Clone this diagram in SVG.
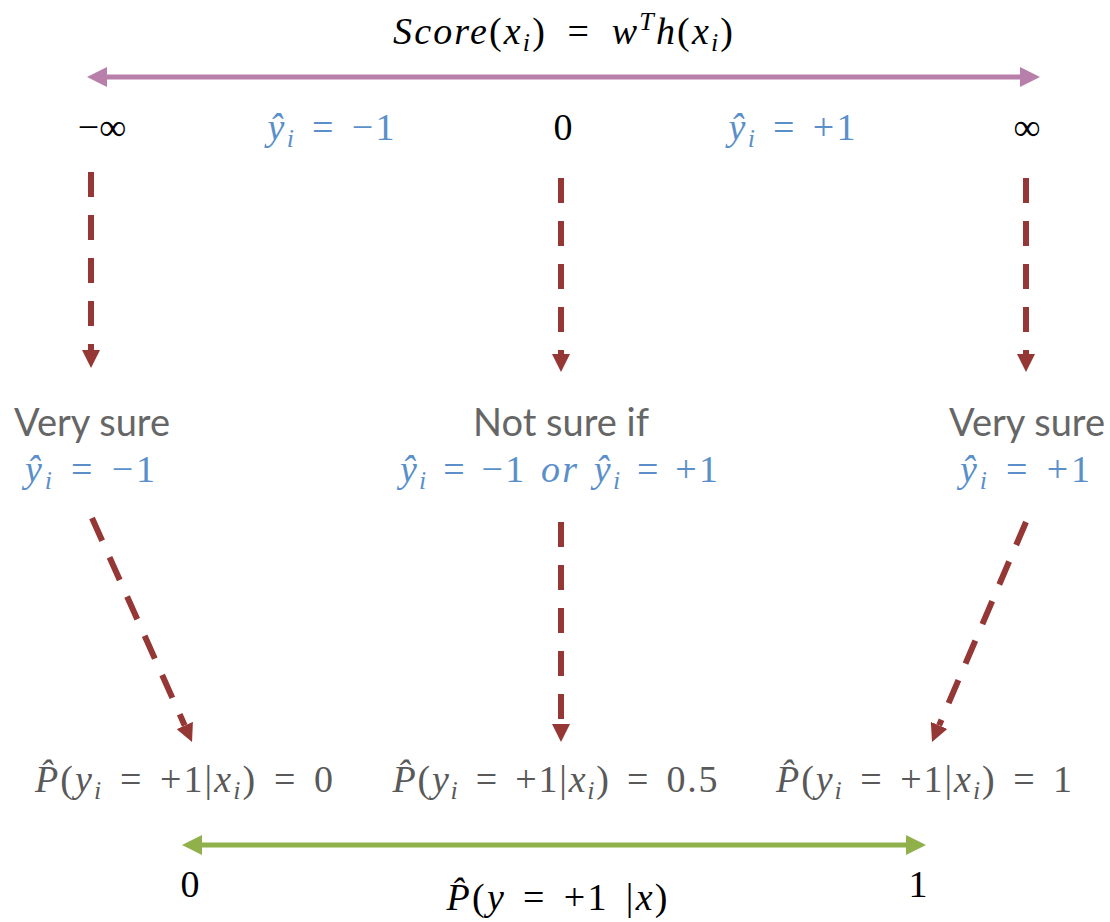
<svg xmlns="http://www.w3.org/2000/svg" width="1110" height="922" viewBox="0 0 1110 922">
<style>
.m{font-family:"Liberation Serif","DejaVu Serif",serif;font-size:38px}
.i{font-style:italic}
.s{font-size:26px}
.blk{fill:#000}
.blu{fill:#5b8fc9}
.gry{fill:#595959}
.lab{font-family:Lato,"Open Sans",sans-serif;font-size:38px;fill:#666}
.dash{stroke:#953735;stroke-width:6;stroke-dasharray:25 18;fill:none}
</style>
<defs>
<marker id="ah" viewBox="0 0 18 18" refX="0" refY="9" markerWidth="18" markerHeight="18" markerUnits="userSpaceOnUse" orient="auto"><path d="M0,0 L18,9 L0,18 z" fill="#953735"/></marker>
<marker id="pa" viewBox="0 0 20 20" refX="2" refY="10" markerWidth="20" markerHeight="20" markerUnits="userSpaceOnUse" orient="auto-start-reverse"><path d="M0,0 L20,10 L0,20 z" fill="#b77fa9"/></marker>
<marker id="ga" viewBox="0 0 20 20" refX="2" refY="10" markerWidth="20" markerHeight="20" markerUnits="userSpaceOnUse" orient="auto-start-reverse"><path d="M0,0 L20,10 L0,20 z" fill="#8fb04a"/></marker>
</defs>
<g id="connectors">
<line x1="105" y1="77" x2="1022" y2="77" stroke="#b77fa9" stroke-width="5" marker-start="url(#pa)" marker-end="url(#pa)"/>
<line x1="200" y1="845" x2="908" y2="845" stroke="#8fb04a" stroke-width="5" marker-start="url(#ga)" marker-end="url(#ga)"/>
<path class="dash" d="M91,172 L91,350" marker-end="url(#ah)"/>
<path class="dash" d="M561,178 L561,354" marker-end="url(#ah)"/>
<path class="dash" d="M1026,178 L1026,354" marker-end="url(#ah)"/>
<path class="dash" d="M92,518 L184.7,725.5" marker-end="url(#ah)"/>
<path class="dash" d="M561,522 L561,724" marker-end="url(#ah)"/>
<path class="dash" d="M1026,522 L939.1,725.4" marker-end="url(#ah)"/>
</g>
<g id="score">
<text class="m blk" x="563" y="44" text-anchor="middle" word-spacing="9" textLength="340" lengthAdjust="spacing"><tspan class="i">Score</tspan>(<tspan class="i">x</tspan><tspan class="i s" dy="7">i</tspan><tspan dy="-7">) = </tspan><tspan class="i">w</tspan><tspan class="i s" dy="-14">T</tspan><tspan class="i" dy="14">h</tspan>(<tspan class="i">x</tspan><tspan class="i s" dy="7">i</tspan><tspan dy="-7">)</tspan></text>
</g>
<g id="axis-labels">
<text class="m blk" x="102" y="140" text-anchor="middle">−∞</text>
<text class="m blu" x="331" y="140" text-anchor="middle" word-spacing="4" textLength="127" lengthAdjust="spacing"><tspan class="i">ŷ</tspan><tspan class="i s" dy="7">i</tspan><tspan dy="-7"> = −1</tspan></text>
<text class="m blk" x="563" y="140" text-anchor="middle">0</text>
<text class="m blu" x="792" y="140" text-anchor="middle" word-spacing="4" textLength="127" lengthAdjust="spacing"><tspan class="i">ŷ</tspan><tspan class="i s" dy="7">i</tspan><tspan dy="-7"> = +1</tspan></text>
<text class="m blk" x="1027" y="140" text-anchor="middle">∞</text>
</g>
<g id="left-node">
<text class="lab" x="92" y="436" text-anchor="middle">Very sure</text>
<text class="m blu" x="90" y="482" text-anchor="middle" word-spacing="4" textLength="130" lengthAdjust="spacing"><tspan class="i">ŷ</tspan><tspan class="i s" dy="7">i</tspan><tspan dy="-7"> = −1</tspan></text>
</g>
<g id="middle-node">
<text class="lab" x="561" y="436" text-anchor="middle">Not sure if</text>
<text class="m blu" x="559" y="482" text-anchor="middle" word-spacing="3" textLength="318" lengthAdjust="spacing"><tspan class="i">ŷ</tspan><tspan class="i s" dy="7">i</tspan><tspan dy="-7"> = −1 </tspan><tspan class="i">or ŷ</tspan><tspan class="i s" dy="7">i</tspan><tspan dy="-7"> = +1</tspan></text>
</g>
<g id="right-node">
<text class="lab" x="1027" y="436" text-anchor="middle">Very sure</text>
<text class="m blu" x="1025" y="482" text-anchor="middle" word-spacing="4" textLength="130" lengthAdjust="spacing"><tspan class="i">ŷ</tspan><tspan class="i s" dy="7">i</tspan><tspan dy="-7"> = +1</tspan></text>
</g>
<g id="p0">
<text class="m gry" x="184" y="792" text-anchor="middle" word-spacing="5" textLength="298" lengthAdjust="spacing"><tspan class="i">P̂</tspan>(<tspan class="i">y</tspan><tspan class="i s" dy="7">i</tspan><tspan dy="-7"> = +1|</tspan><tspan class="i">x</tspan><tspan class="i s" dy="7">i</tspan><tspan dy="-7">) = 0</tspan></text>
</g>
<g id="p05">
<text class="m gry" x="555" y="792" text-anchor="middle" word-spacing="5" textLength="325" lengthAdjust="spacing"><tspan class="i">P̂</tspan>(<tspan class="i">y</tspan><tspan class="i s" dy="7">i</tspan><tspan dy="-7"> = +1|</tspan><tspan class="i">x</tspan><tspan class="i s" dy="7">i</tspan><tspan dy="-7">) = 0.5</tspan></text>
</g>
<g id="p1">
<text class="m gry" x="924" y="792" text-anchor="middle" word-spacing="5" textLength="296" lengthAdjust="spacing"><tspan class="i">P̂</tspan>(<tspan class="i">y</tspan><tspan class="i s" dy="7">i</tspan><tspan dy="-7"> = +1|</tspan><tspan class="i">x</tspan><tspan class="i s" dy="7">i</tspan><tspan dy="-7">) = 1</tspan></text>
</g>
<g id="prob-axis">
<text class="m blk" x="190" y="897" text-anchor="middle">0</text>
<text class="m blk" x="918" y="897" text-anchor="middle">1</text>
<text class="m blk" x="557" y="910" text-anchor="middle" word-spacing="5" textLength="221" lengthAdjust="spacing"><tspan class="i">P̂</tspan>(<tspan class="i">y</tspan> = +1 |<tspan class="i">x</tspan>)</text>
</g>
</svg>
